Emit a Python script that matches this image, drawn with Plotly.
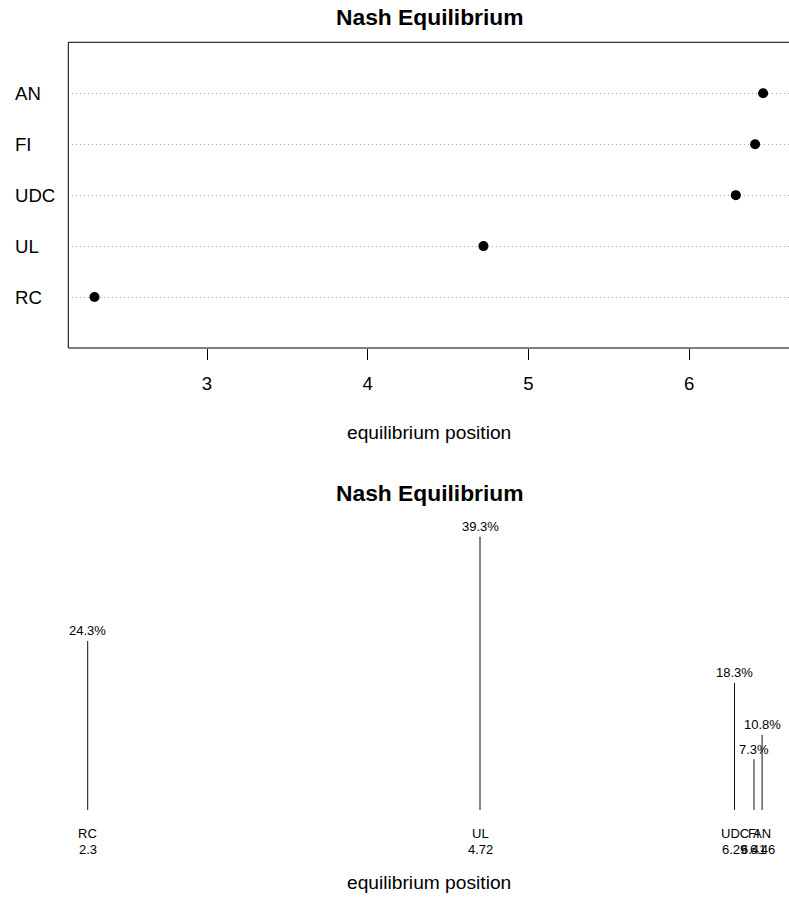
import plotly.graph_objects as go

# ---- data ----
categories = ["RC", "UL", "UDC", "FI", "AN"]
positions = [2.3, 4.72, 6.29, 6.41, 6.46]
position_labels = ["2.3", "4.72", "6.29", "6.41", "6.46"]
shares = [24.3, 39.3, 18.3, 7.3, 10.8]
x_ticks = [3, 4, 5, 6]
title_text = "Nash Equilibrium"
xlabel_text = "equilibrium position"

W, H = 789, 918
FONT = "Arial, Liberation Sans, Helvetica, sans-serif"

def py(pix):
    return 1 - pix / H

def px(pix):
    return pix / W

fig = go.Figure()

# ---- top dot chart ----
rows = list(range(1, len(categories) + 1))
fig.add_trace(go.Scatter(
    x=positions, y=rows, mode="markers",
    marker=dict(color="black", size=10),
    xaxis="x", yaxis="y", showlegend=False, hoverinfo="skip"))

# ---- bottom spike chart ----
for xv, sv in zip(positions, shares):
    fig.add_trace(go.Scatter(
        x=[xv, xv], y=[0, sv], mode="lines",
        line=dict(color="#111111", width=1),
        xaxis="x2", yaxis="y2", showlegend=False, hoverinfo="skip"))

annotations = []
# row labels (left aligned)
for r, c in zip(rows, categories):
    annotations.append(dict(
        x=px(12.5), y=r, xref="paper", yref="y", text=c, showarrow=False,
        xanchor="left", yanchor="middle",
        font=dict(family=FONT, size=18.6, color="black")))
# percentage labels and bottom labels
for xv, sv, c, pl in zip(positions, shares, categories, position_labels):
    annotations.append(dict(
        x=xv, y=sv, xref="x2", yref="y2", text=f"{sv}%", showarrow=False,
        xanchor="center", yanchor="middle", yshift=10,
        font=dict(family=FONT, size=13, color="black")))
    annotations.append(dict(
        x=xv, y=0, xref="x2", yref="y2", text=c, showarrow=False,
        xanchor="center", yanchor="middle", yshift=-23,
        font=dict(family=FONT, size=13, color="black")))
    annotations.append(dict(
        x=xv, y=0, xref="x2", yref="y2", text=pl, showarrow=False,
        xanchor="center", yanchor="middle", yshift=-39,
        font=dict(family=FONT, size=13, color="black")))
# titles
for ty in (17, 493):
    annotations.append(dict(
        x=px(429), y=py(ty), xref="paper", yref="paper", text=f"<b>{title_text}</b>",
        showarrow=False, xanchor="center", yanchor="middle",
        font=dict(family=FONT, size=22.8, color="black")))
for ly in (432, 882):
    annotations.append(dict(
        x=px(429), y=py(ly), xref="paper", yref="paper", text=xlabel_text,
        showarrow=False, xanchor="center", yanchor="middle",
        font=dict(family=FONT, size=19.2, color="black")))

shapes = [dict(type="rect", xref="paper", yref="paper",
               x0=px(68.3), x1=1.01, y0=py(348), y1=py(42.3),
               line=dict(color="black", width=1), fillcolor="rgba(0,0,0,0)")]

fig.update_layout(
    width=W, height=H,
    margin=dict(l=0, r=0, t=0, b=0),
    paper_bgcolor="white", plot_bgcolor="white",
    font=dict(family=FONT, color="black"),
    xaxis=dict(domain=[px(68.3), 1], range=[2.137, 6.621],
               tickvals=x_ticks, ticktext=[str(t) for t in x_ticks],
               ticks="outside", ticklen=11, tickcolor="black", tickwidth=1,
               tickfont=dict(family=FONT, size=18.6, color="black"),
               ticklabelstandoff=8,
               showgrid=False, zeroline=False, showline=False,
               anchor="y"),
    yaxis=dict(domain=[py(348), py(42.3)], range=[0, 6],
               tickvals=rows, showticklabels=False, ticks="",
               showgrid=True, gridcolor="#a8a8a8", griddash="1px,3px", gridwidth=1,
               zeroline=False, showline=False, anchor="x"),
    xaxis2=dict(domain=[0, 1], range=[1.759, 6.626], visible=False, anchor="y2"),
    yaxis2=dict(domain=[py(810), py(520)], range=[0, 290 / 6.955], visible=False, anchor="x2"),
    annotations=annotations,
    shapes=shapes,
)

fig.write_html(
    "out.html",
    config={"displayModeBar": False},
    post_script="document.body.style.margin='0';document.body.style.overflow='hidden';",
)
